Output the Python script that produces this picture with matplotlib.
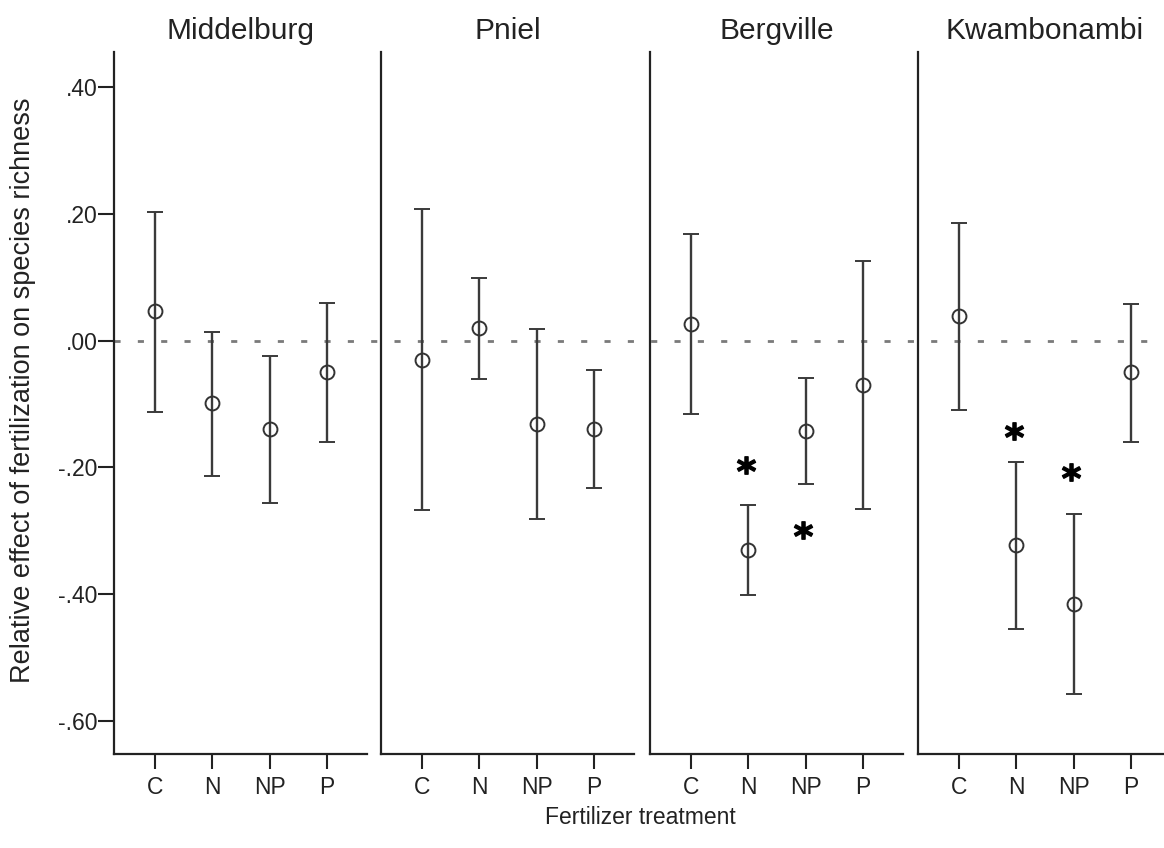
import matplotlib
matplotlib.use('Agg')
import matplotlib.pyplot as plt
from matplotlib.lines import Line2D
from matplotlib.transforms import blended_transform_factory

plt.rcParams['font.family'] = ['Liberation Sans', 'DejaVu Sans']

# data
sites = ['Middelburg', 'Pniel', 'Bergville', 'Kwambonambi']
treatments = ['C', 'N', 'NP', 'P']

means = [
    [0.046, -0.099, -0.140, -0.050],
    [-0.030, 0.020, -0.131, -0.140],
    [0.026, -0.330, -0.143, -0.070],
    [0.038, -0.322, -0.416, -0.050],
]
upper = [
    [0.203, 0.014, -0.024, 0.059],
    [0.207, 0.099, 0.018, -0.047],
    [0.168, -0.259, -0.059, 0.126],
    [0.186, -0.192, -0.273, 0.058],
]
lower = [
    [-0.113, -0.213, -0.256, -0.160],
    [-0.267, -0.061, -0.281, -0.233],
    [-0.116, -0.401, -0.227, -0.266],
    [-0.110, -0.455, -0.557, -0.160],
]

# significance stars: (site index, treatment index, y)
stars = [(2, 1, -0.196), (2, 2, -0.299), (3, 1, -0.142), (3, 2, -0.207)]

yticks = [0.40, 0.20, 0.00, -0.20, -0.40, -0.60]
yticklabels = ['.40', '.20', '.00', '-.20', '-.40', '-.60']

W, H = 1164, 848
fig = plt.figure(figsize=(W / 100, H / 100), dpi=100)

lefts = [114, 381, 650, 918]
pw = 253
top, bot = 52, 754
spine_col = '#222222'
bar_col = '#3a3a3a'

axes = []
for i, site in enumerate(sites):
    ax = fig.add_axes([lefts[i] / W, 1 - bot / H, pw / W, (bot - top) / H])
    ax.set_facecolor('none')
    x = list(range(len(treatments)))
    m = means[i]
    err = [[m[j] - lower[i][j] for j in x], [upper[i][j] - m[j] for j in x]]
    ax.errorbar(x, m, yerr=err, fmt='o', mfc='none', mec='#333333', ms=10, mew=1.4,
                ecolor=bar_col, elinewidth=1.7, capsize=5.5, capthick=1.7, zorder=3)
    for s, t, ys in stars:
        if s == i:
            ax.plot(t - 0.04, ys, marker=r'$\mathbf{*}$', ms=13, color='black',
                    linestyle='none', zorder=4)
    ax.set_xlim(-0.72, 3.7)
    ax.set_ylim(-0.652, 0.455)
    ax.set_xticks(x)
    ax.set_xticklabels(treatments, fontsize=16.5)
    for sp in ['top', 'right']:
        ax.spines[sp].set_visible(False)
    for sp in ['left', 'bottom']:
        ax.spines[sp].set_linewidth(1.6)
        ax.spines[sp].set_color(spine_col)
    ax.tick_params(axis='x', length=11, width=1.5, color=spine_col, pad=5, labelcolor='#222222')
    if i == 0:
        ax.set_yticks(yticks)
        ax.set_yticklabels(yticklabels, fontsize=16.5)
        ax.tick_params(axis='y', length=11.5, width=1.5, color=spine_col, pad=0.5,
                       labelcolor='#222222')
    else:
        ax.set_yticks([])
    ax.set_title(site, fontsize=21.5, pad=9.5, color='#222222')
    axes.append(ax)

# dashed reference line at zero across all panels
tr = blended_transform_factory(fig.transFigure, axes[0].transData)
fig.lines.append(Line2D([lefts[0] / W, 1.0], [0, 0], transform=tr, color='#7a7a7a',
                        linewidth=2.0, linestyle=(0, (2.2, 6.2)), zorder=-1))

fig.text(23 / W, 1 - 390 / H, 'Relative effect of fertilization on species richness',
         rotation=90, ha='center', va='center', fontsize=19.5, color='#222222')
fig.text(640 / W, 1 - 818 / H, 'Fertilizer treatment', ha='center', va='center',
         fontsize=16.5, color='#222222')

fig.savefig('out.png', dpi=100)
